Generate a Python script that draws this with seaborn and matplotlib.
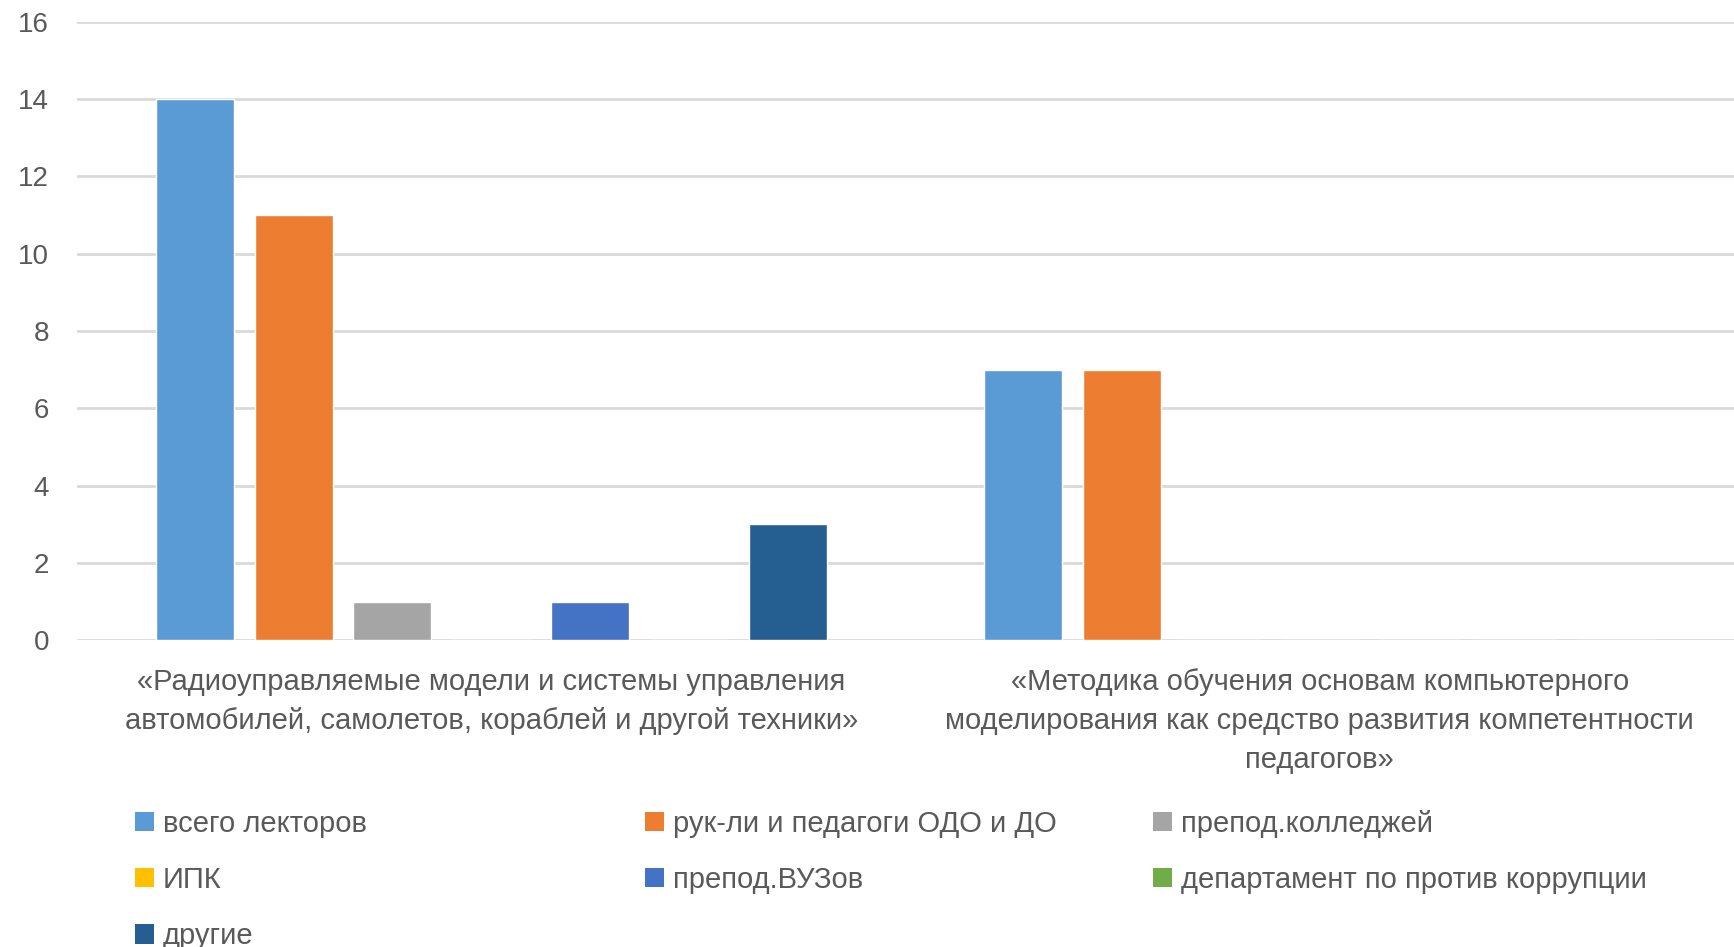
import matplotlib
matplotlib.use("Agg")
from matplotlib import pyplot as plt
from matplotlib.patches import Patch
import pandas as pd
import seaborn as sns

# Chart data
courses = [
    "«Радиоуправляемые модели и системы управления\nавтомобилей, самолетов, кораблей и другой техники»",
    "«Методика обучения основам компьютерного\nмоделирования как средство развития компетентности\nпедагогов»",
]
groups = [
    "всего лекторов",
    "рук-ли и педагоги ОДО и ДО",
    "препод.колледжей",
    "ИПК",
    "препод.ВУЗов",
    "департамент по против коррупции",
    "другие",
]
values_course1 = [14, 11, 1, 0, 1, 0, 3]
values_course2 = [7, 7, 0, 0, 0, 0, 0]
colors = ["#5B9BD5", "#ED7D31", "#A5A5A5", "#FFC000", "#4472C4", "#70AD47", "#255E91"]

rows = []
for g, v1, v2 in zip(groups, values_course1, values_course2):
    rows.append({"course": courses[0], "group": g, "value": v1})
    rows.append({"course": courses[1], "group": g, "value": v2})
df = pd.DataFrame(rows)

sns.set_theme(style="white")
plt.rcParams["font.family"] = ["Liberation Sans", "DejaVu Sans"]

fig = plt.figure(figsize=(17.34, 9.47), dpi=100)
ax = fig.add_axes([0.0444, 0.324, 0.9556, 0.653])

sns.barplot(data=df, x="course", y="value", hue="group", order=courses,
            hue_order=groups, palette=colors, width=0.835, gap=0.21,
            legend=False, saturation=1, ax=ax)

ax.set_ylim(0, 16)
ax.set_xlim(-0.5, 1.5)
ax.set_yticks(range(0, 17, 2))
ax.yaxis.grid(True, color="#D9D9D9", linewidth=2)
ax.set_axisbelow(True)
for s in ax.spines.values():
    s.set_visible(False)
ax.set_xlabel("")
ax.set_ylabel("")
ax.tick_params(axis="y", length=0, pad=20, labelsize=20, labelcolor="#595959")
ax.tick_params(axis="x", length=0, pad=20, labelsize=21, labelcolor="#595959")
for t in ax.get_xticklabels():
    t.set_linespacing(1.5)

# Legend laid out in three columns like the original
handles = {g: Patch(facecolor=c, edgecolor="none") for g, c in zip(groups, colors)}
columns = [
    (["всего лекторов", "ИПК", "другие"], 0.078),
    (["рук-ли и педагоги ОДО и ДО", "препод.ВУЗов"], 0.372),
    (["препод.колледжей", "департамент по против коррупции"], 0.665),
]
for names, xpos in columns:
    fig.legend([handles[n] for n in names], names, loc="upper left",
               bbox_to_anchor=(xpos, 0.145), frameon=False,
               fontsize=21, labelcolor="#595959", handlelength=0.65,
               handleheight=0.65, handletextpad=0.3, labelspacing=0.97,
               borderaxespad=0, borderpad=0)

fig.savefig("out.png", dpi=100)
